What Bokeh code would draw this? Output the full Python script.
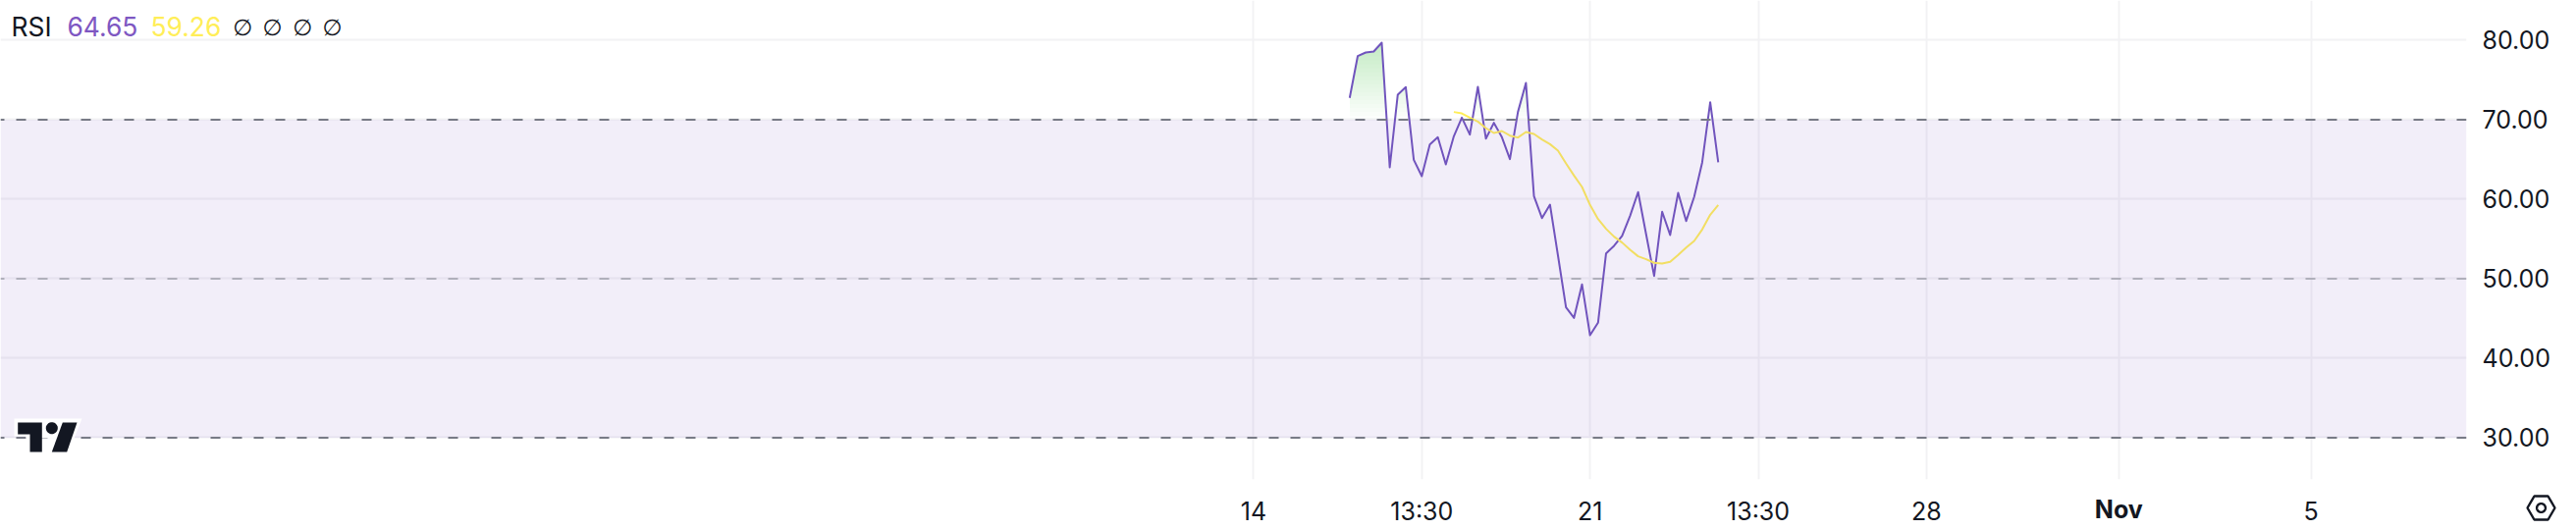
import numpy as np
from bokeh.plotting import figure
from bokeh.embed import file_html
from bokeh.resources import INLINE
from bokeh.layouts import column
from bokeh.core.properties import value
from bokeh.models import (Range1d, FixedTicker, Span, BoxAnnotation, Label, PolyAnnotation,
                          NumeralTickFormatter)

rsi = [72.74, 78.0, 78.46, 78.58, 79.69, 64.01, 73.15, 74.1, 64.96, 62.9, 66.89, 67.8,
       64.38, 67.92, 70.27, 68.13, 74.14, 67.63, 69.61, 67.8, 65.04, 70.97, 74.63,
       60.39, 57.63, 59.32, 52.9, 46.4, 45.08, 49.28, 42.9, 44.47, 53.19, 54.14, 55.37,
       57.92, 60.89, 55.58, 50.35, 58.42, 55.5, 60.8, 57.26, 60.31, 64.63, 72.2, 64.65]
rsi_ma = [70.97, 70.8, 70.27, 69.77, 68.95, 68.33, 68.58, 68.0, 67.76, 68.46, 68.21,
          67.51, 66.93, 66.11, 64.51, 62.98, 61.54, 59.28, 57.51, 56.28, 55.29, 54.55,
          53.64, 52.82, 52.45, 52.0, 51.91, 52.12, 52.98, 53.93, 54.75, 56.19, 58.05, 59.26]
ma_start = 13
x_ticks = [-12, 9, 30, 51, 72, 96, 120]
x_labels = ["14", "13:30", "21", "13:30", "28", "", "5"]
bold_tick = (96, "Nov")
y_ticks = [30, 40, 50, 60, 70, 80]
band = (30, 70)
dashed_levels = [(70, 1.0), (50, 0.5), (30, 1.0)]

INK = "#131722"
GRID = "#f2f2f4"
PURPLE = "#7054bd"
LEG_PURPLE = "#7e57c2"
YELLOW = "#ffee58"
FONT = "Inter"
FS = "25px"
LEG = "26.4px"

W, H = 2624, 540
FW, FH = 2512, 488
X0, X1 = -168.4, 139.4

p = figure(width=W, height=H, output_backend="svg", toolbar_location=None,
           x_range=Range1d(X0, X1), y_range=Range1d(24.75, 85.0),
           y_axis_location="right", min_border_left=0, min_border_top=0,
           min_border_right=W - FW, min_border_bottom=H - FH)
p.frame_width = FW
p.frame_height = FH
p.outline_line_color = None
p.background_fill_color = "white"

for ax in (p.xaxis[0], p.yaxis[0]):
    ax.axis_line_color = None
    ax.major_tick_line_color = None
    ax.minor_tick_line_color = None
    ax.major_tick_out = 0
    ax.major_tick_in = 0
    ax.minor_tick_out = 0
    ax.minor_tick_in = 0
    ax.major_label_text_color = INK
    ax.major_label_text_font = FONT
    ax.major_label_text_font_size = FS
p.xaxis[0].ticker = FixedTicker(ticks=x_ticks)
p.xaxis[0].major_label_overrides = {t: s for t, s in zip(x_ticks, x_labels)}
p.xaxis[0].major_label_standoff = 17
p.yaxis[0].ticker = FixedTicker(ticks=y_ticks)
p.yaxis[0].formatter = NumeralTickFormatter(format="0.00")
p.yaxis[0].major_label_standoff = 16
for g in (p.xgrid[0], p.ygrid[0]):
    g.grid_line_color = GRID
    g.grid_line_width = 2
p.xgrid[0].ticker = FixedTicker(ticks=x_ticks)
p.ygrid[0].ticker = FixedTicker(ticks=y_ticks)

p.add_layout(BoxAnnotation(bottom=band[0], top=band[1], fill_color="#7e57c2", fill_alpha=0.1,
                           line_alpha=0, level="glyph"))
for lev, a in dashed_levels:
    p.add_layout(Span(location=lev, dimension="width", line_color="#787b86", line_alpha=a,
                      line_width=2, line_dash="10 12", line_dash_offset=6, level="glyph"))

# gradient fill above the upper band, built from stacked translucent layers
xs = np.arange(len(rsi), dtype=float)
dense_x = np.linspace(0, len(rsi) - 1, (len(rsi) - 1) * 40 + 1)
dense_y = np.interp(dense_x, xs, rsi)
for L in np.arange(70, 80, 0.5):
    p.varea(dense_x, y1=np.maximum(dense_y, L), y2=np.full_like(dense_y, L),
            fill_color="#4caf50", fill_alpha=0.014)

p.line(xs, rsi, line_color=PURPLE, line_width=2, line_join="round")
p.line(np.arange(len(rsi_ma)) + ma_start, rsi_ma, line_color=YELLOW, line_width=2)


def poly(px, py, fill, line=None, lw=0):
    p.add_layout(PolyAnnotation(xs=list(px), ys=list(py), xs_units="canvas",
                                ys_units="canvas", fill_color=fill,
                                fill_alpha=1 if fill else 0,
                                line_color=line, line_width=lw, level="overlay",
                                line_alpha=1 if line else 0))


def text(x, py, s, color, size=FS, style="normal", align="left", font=FONT):
    p.add_layout(Label(x=x, y=py, x_units="canvas", y_units="canvas", text=s,
                       text_color=color, text_font=font, text_font_size=size,
                       text_font_style=style, text_align=align, text_baseline="middle",
                       level="overlay"))


text(11, 26, "RSI", INK, size=LEG)
text(68, 26, "64.65", LEG_PURPLE, size=LEG)
text(153, 26, "59.26", YELLOW, size=LEG)
for cx in (246.7, 277, 307.7, 338):
    text(cx, 27, "\u2205", INK, size="23px", align="center", font="DejaVu Sans")

# TradingView mark
poly([14, 83, 75, 26, 26, 14], [426, 426, 446, 446, 444, 444], "white")
poly([17.7, 42.3, 42.3, 30, 30, 17.7], [430, 430, 460, 460, 442, 442], INK)
t = np.linspace(0, 2 * np.pi, 40, endpoint=False)
poly(52.3 + 6 * np.cos(t), 435.7 + 6 * np.sin(t), INK)
poly([63.3, 78, 67.7, 52.3], [430, 430, 460, 460], INK)

# transparent strip laid over the bottom axis: bold month tick and settings icon
strip_h = H - FH
q = figure(width=W, height=strip_h, output_backend="svg", toolbar_location=None,
           x_range=Range1d(0, W), y_range=Range1d(H, FH),
           min_border_left=0, min_border_right=0, min_border_top=0, min_border_bottom=0)
q.frame_width = W
q.frame_height = strip_h
q.axis.visible = False
q.grid.visible = False
q.outline_line_color = None
q.background_fill_alpha = 0
q.border_fill_alpha = 0
q.styles = {"margin-top": f"-{strip_h}px", "background": "transparent"}
nov_px = (bold_tick[0] - X0) / (X1 - X0) * FW
q.text([nov_px], [518], text=[bold_tick[1]], text_color=INK, text_font=value(FONT),
       text_font_size=FS, text_font_style="bold", text_align="center", text_baseline="middle")
q.patch([2574, 2581, 2595, 2602, 2595, 2581], [517, 505, 505, 517, 529, 529],
        fill_alpha=0, line_color=INK, line_width=2.4)
q.patch(2588 + 4.4 * np.cos(t), 517 + 4.4 * np.sin(t), fill_alpha=0, line_color=INK,
        line_width=2.4)

layout = column(p, q, spacing=0)
open("out.html", "w").write(file_html(layout, INLINE))
